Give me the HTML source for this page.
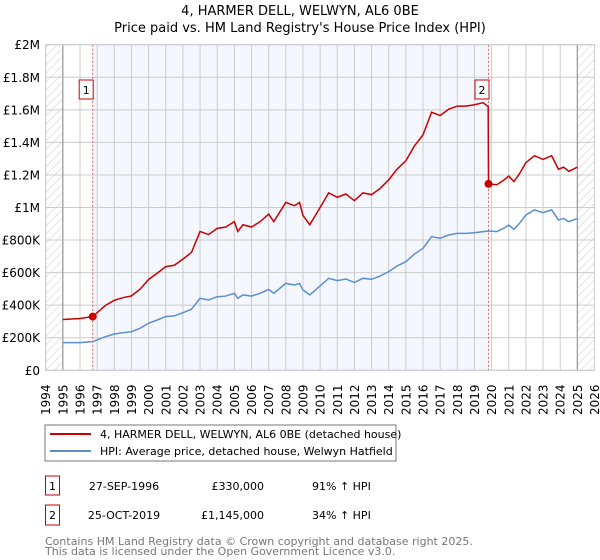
<!DOCTYPE html>
<html><head><meta charset="utf-8"><style>
body{margin:0;background:#fff;font-family:"DejaVu Sans","Liberation Sans",sans-serif;}
svg{display:block}
</style></head><body>
<svg id="c" width="600" height="560" xmlns="http://www.w3.org/2000/svg" font-family="DejaVu Sans, Liberation Sans, sans-serif">
<text x="300" y="15" text-anchor="middle" font-size="13" fill="#000">4, HARMER DELL, WELWYN, AL6 0BE</text>
<text x="300" y="32" text-anchor="middle" font-size="13" fill="#000">Price paid vs. HM Land Registry's House Price Index (HPI)</text>
<defs><pattern id="hatch" width="6" height="6" patternUnits="userSpaceOnUse" patternTransform="rotate(45)"><line x1="0" y1="0" x2="0" y2="6" stroke="#ccc" stroke-width="1"/></pattern></defs>
<g id="plot"></g>
<rect x="45" y="425" width="351" height="36" fill="#fff" stroke="#777"/>
<line x1="50" y1="434" x2="91" y2="434" stroke="#cc0000" stroke-width="2"/>
<text x="100" y="438" font-size="11">4, HARMER DELL, WELWYN, AL6 0BE (detached house)</text>
<line x1="50" y1="451" x2="91" y2="451" stroke="#5b8fd0" stroke-width="2"/>
<text x="100" y="455" font-size="11">HPI: Average price, detached house, Welwyn Hatfield</text>
<g font-size="11">
<rect x="45.5" y="476" width="14" height="19" fill="none" stroke="#cc0000"/>
<text x="52.5" y="490" text-anchor="middle">1</text>
<text x="124" y="490" text-anchor="middle">27-SEP-1996</text>
<text x="264" y="490" text-anchor="end">£330,000</text>
<text x="312" y="490">91% ↑ HPI</text>
<rect x="45.5" y="505" width="14" height="20" fill="none" stroke="#cc0000"/>
<text x="52.5" y="519" text-anchor="middle">2</text>
<text x="124" y="519" text-anchor="middle">25-OCT-2019</text>
<text x="264" y="519" text-anchor="end">£1,145,000</text>
<text x="312" y="519">34% ↑ HPI</text>
</g>
<text x="45" y="545" font-size="11" fill="#777">Contains HM Land Registry data © Crown copyright and database right 2025.</text>
<text x="45" y="555" font-size="11" fill="#777">This data is licensed under the Open Government Licence v3.0.</text>
</svg>
<script>
const years=[1995,1996,1996.74,1997.5,1998,1998.5,1999,1999.5,2000,2000.5,2001,2001.5,2002,2002.5,2003,2003.5,2004,2004.5,2005,2005.2,2005.5,2006,2006.5,2007,2007.3,2008,2008.5,2008.8,2009,2009.4,2010,2010.5,2011,2011.5,2012,2012.5,2013,2013.5,2014,2014.5,2015,2015.5,2016,2016.5,2017,2017.5,2018,2018.5,2019,2019.5,2019.82,2020.3,2020.7,2021,2021.3,2021.6,2022,2022.5,2023,2023.5,2023.9,2024.2,2024.5,2025];
const hpiValues=[170,170,176,207,223,231,237,258,289,309,330,334,354,375,442,432,452,456,473,442,463,456,473,497,473,534,524,534,493,463,518,565,551,561,540,565,559,579,606,641,667,714,749,821,811,831,841,841,845,852,856,852,872,892,866,899,954,985,968,985,923,933,913,933];
const redYears=[1995,1996,1996.74,1997.5,1998,1998.5,1999,1999.5,2000,2000.5,2001,2001.5,2002,2002.5,2003,2003.5,2004,2004.5,2005,2005.2,2005.5,2006,2006.5,2007,2007.3,2008,2008.5,2008.8,2009,2009.4,2010,2010.5,2011,2011.5,2012,2012.5,2013,2013.5,2014,2014.5,2015,2015.5,2016,2016.5,2017,2017.5,2018,2018.5,2019,2019.5,2019.8,2019.82,2020.3,2020.7,2021,2021.3,2021.6,2022,2022.5,2023,2023.5,2023.9,2024.2,2024.5,2025];
const redValues=[312,318,330,400,430,446,457,498,558,596,637,645,683,724,853,834,872,880,913,853,894,880,913,959,913,1031,1011,1031,951,894,1000,1090,1063,1083,1042,1090,1079,1117,1170,1237,1287,1378,1446,1585,1565,1604,1623,1623,1631,1644,1620,1145,1140,1167,1193,1159,1203,1276,1318,1295,1318,1235,1248,1222,1248];
const saleYears=[1996.74,2019.82];
const saleValues=[330,1145];
const yTicks=[0,200,400,600,800,1000,1200,1400,1600,1800,2000];
const yTickLabels=["£0","£200K","£400K","£600K","£800K","£1M","£1.2M","£1.4M","£1.6M","£1.8M","£2M"];
const xTicks=[1994,1995,1996,1997,1998,1999,2000,2001,2002,2003,2004,2005,2006,2007,2008,2009,2010,2011,2012,2013,2014,2015,2016,2017,2018,2019,2020,2021,2022,2023,2024,2025,2026];

const X0=45.7,X1=594.5,Y0=370.3,Y1=44.7;
const xs=y=>X0+(y-1994)/(2026-1994)*(X1-X0);
const ys=v=>Y0-v/2000*(Y0-Y1);
const NS="http://www.w3.org/2000/svg";
const g=document.getElementById('plot');
function mk(t,a){const e=document.createElementNS(NS,t);for(const k in a)e.setAttribute(k,a[k]);g.appendChild(e);return e;}
let e;
e=mk('rect',{x:xs(saleYears[0]),y:Y1,width:xs(saleYears[1])-xs(saleYears[0]),height:Y0-Y1,fill:'#f4f7fe'});


e=mk('rect',{x:X0,y:Y1,width:xs(1995)-X0,height:Y0-Y1,fill:'url(#hatch)'});


e=mk('rect',{x:xs(2025),y:Y1,width:X1-xs(2025),height:Y0-Y1,fill:'url(#hatch)'});


xTicks.forEach((t,i)=>{
 e=mk('line',{x1:xs(t),x2:xs(t),y1:Y1,y2:Y0,stroke:'#ccc','stroke-width':1});
 
 
 e=mk('text',{x:0,y:0,transform:`translate(${xs(t)+4.5},415) rotate(-90)`,'font-size':12,fill:'#000'});
 e.textContent=t;
 
 
});
yTicks.forEach((t,i)=>{
 e=mk('line',{x1:X0,x2:X1,y1:ys(t),y2:ys(t),stroke:'#ccc','stroke-width':1});
 
 
 e=mk('text',{x:40,y:ys(t)+4.5,'text-anchor':'end','font-size':12,fill:'#000'});
 e.textContent=yTickLabels[i];
 
 
});
e=mk('line',{x1:xs(1995),x2:xs(1995),y1:Y1,y2:Y0,stroke:'#999','stroke-width':1.2});


e=mk('line',{x1:xs(2025),x2:xs(2025),y1:Y1,y2:Y0,stroke:'#999','stroke-width':1.2});


saleYears.forEach((s,i)=>{
 e=mk('line',{x1:xs(s),x2:xs(s),y1:Y1,y2:Y0,stroke:'#e06060','stroke-width':1,'stroke-dasharray':'2,2'});
 
 
});
e=mk('polyline',{points:years.map((y,i)=>xs(y)+','+ys(hpiValues[i])).join(' '),fill:'none',stroke:'#5b8fd0','stroke-width':1.5});


e=mk('polyline',{points:redYears.map((y,i)=>xs(y)+','+ys(redValues[i])).join(' '),fill:'none',stroke:'#cc0000','stroke-width':1.5});


saleYears.forEach((s,i)=>{
 e=mk('circle',{cx:xs(s),cy:ys(saleValues[i]),r:4,fill:'#cc0000'});
 
 
 e=mk('rect',{x:xs(s)-13.5,y:80,width:14,height:19,fill:'#fff',stroke:'#cc0000'});
 
 
 e=mk('text',{x:xs(s)-6.5,y:94,'text-anchor':'middle','font-size':11});
 e.textContent=String(i+1);
 
 
});
e=mk('rect',{x:X0,y:Y1,width:X1-X0,height:Y0-Y1,fill:'none',stroke:'#ccc'});


</script>
</body></html>
